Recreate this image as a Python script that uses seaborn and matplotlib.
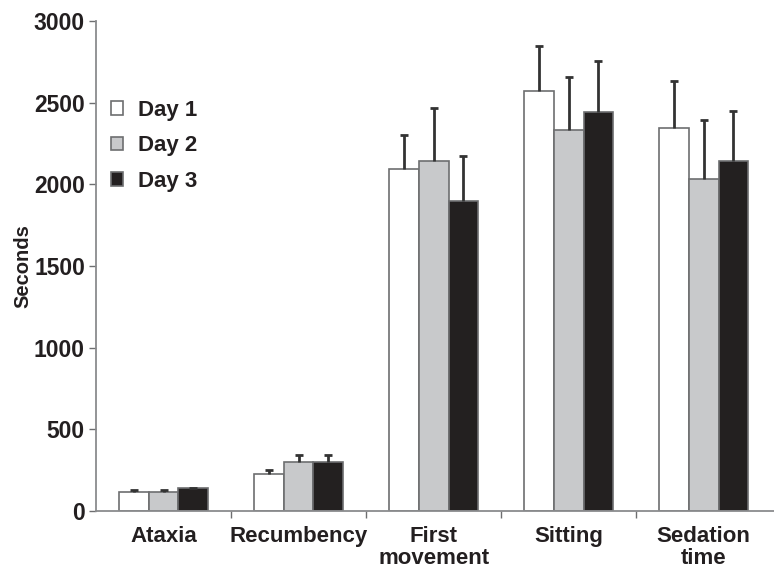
import matplotlib
matplotlib.use("Agg")
import matplotlib.pyplot as plt
import seaborn as sns
import pandas as pd
import numpy as np
from matplotlib.patches import Patch

categories = ["Ataxia", "Recumbency", "First\nmovement", "Sitting", "Sedation\ntime"]
days = ["Day 1", "Day 2", "Day 3"]
day1 = [118, 224, 2095, 2570, 2345]
day2 = [118, 301, 2140, 2330, 2035]
day3 = [138, 300, 1900, 2445, 2140]
err1 = [10, 26, 210, 280, 290]
err2 = [10, 39, 330, 325, 360]
err3 = [5, 40, 275, 310, 310]
yticks = [0, 500, 1000, 1500, 2000, 2500, 3000]

rows = []
for vals, errs, d in [(day1, err1, days[0]), (day2, err2, days[1]), (day3, err3, days[2])]:
    for c, v, e in zip(categories, vals, errs):
        rows.append({"cat": c, "day": d, "val": v, "err": e})
df = pd.DataFrame(rows)

sns.set_style("ticks")
plt.rcParams["font.family"] = ["Liberation Sans", "DejaVu Sans"]
plt.rcParams["font.weight"] = "bold"

fig = plt.figure(figsize=(7.74, 5.71), dpi=100)
ax = fig.add_axes([96/774, 1-511/571, (774-96)/774, (511-21)/571])

palette = {"Day 1": "#ffffff", "Day 2": "#c8c9cb", "Day 3": "#231f20"}
sns.barplot(data=df, x="cat", y="val", hue="day", order=categories, hue_order=days,
            palette=palette, errorbar=None, width=0.66, edgecolor="#6d6e70",
            linewidth=1.2, ax=ax, legend=False)

# upper-only error bars placed on the bar patches
bars = [p for p in ax.patches if p.get_height() > 0]
for d_i, d in enumerate(days):
    sub = df[df.day == d]
    for c_i, c in enumerate(categories):
        p = bars[d_i * len(categories) + c_i]
        xc = p.get_x() + p.get_width() / 2
        v = sub[sub.cat == c].val.values[0]
        e = sub[sub.cat == c].err.values[0]
        _, caps, _ = ax.errorbar(xc, v, yerr=[[0], [e]], fmt="none", ecolor="#333333",
                                 elinewidth=2, capsize=3, capthick=2, zorder=5)
        if len(caps) == 2:
            caps[0].set_visible(False)

ax.set_xlim(-0.5, 4.52)
ax.set_ylim(0, 3000)
ax.set_yticks(yticks)
ax.set_yticklabels([str(t) for t in yticks], fontsize=16.5, fontweight="bold", color="#231f20")
ax.set_xticks(np.arange(len(categories)))
ax.set_xticklabels(categories, fontsize=16, fontweight="bold", color="#231f20", linespacing=1.05)
ax.tick_params(axis="x", length=0, pad=11)
ax.set_xticks(np.arange(len(categories) - 1) + 0.5, minor=True)
ax.tick_params(axis="x", which="minor", length=5, color="#6d6e70", width=1)
ax.tick_params(axis="y", length=5, color="#6d6e70", width=1, pad=3)
ax.set_xlabel("")
ax.set_ylabel("Seconds", fontsize=14.5, fontweight="bold", color="#231f20", labelpad=1)
for s in ["top", "right"]:
    ax.spines[s].set_visible(False)
for s in ["left", "bottom"]:
    ax.spines[s].set_color("#8a8b8d")
    ax.spines[s].set_linewidth(1.3)

handles = [Patch(facecolor=palette[d], edgecolor="#6d6e70", linewidth=1.2) for d in days]
leg = ax.legend(handles, days, loc="upper left", bbox_to_anchor=(-0.008, 0.88),
                frameon=False, handlelength=0.55, handleheight=0.55, handletextpad=0.7,
                labelspacing=0.65, prop={"size": 16, "weight": "bold"})
for t in leg.get_texts():
    t.set_color("#231f20")

fig.savefig("out.png", dpi=100)
